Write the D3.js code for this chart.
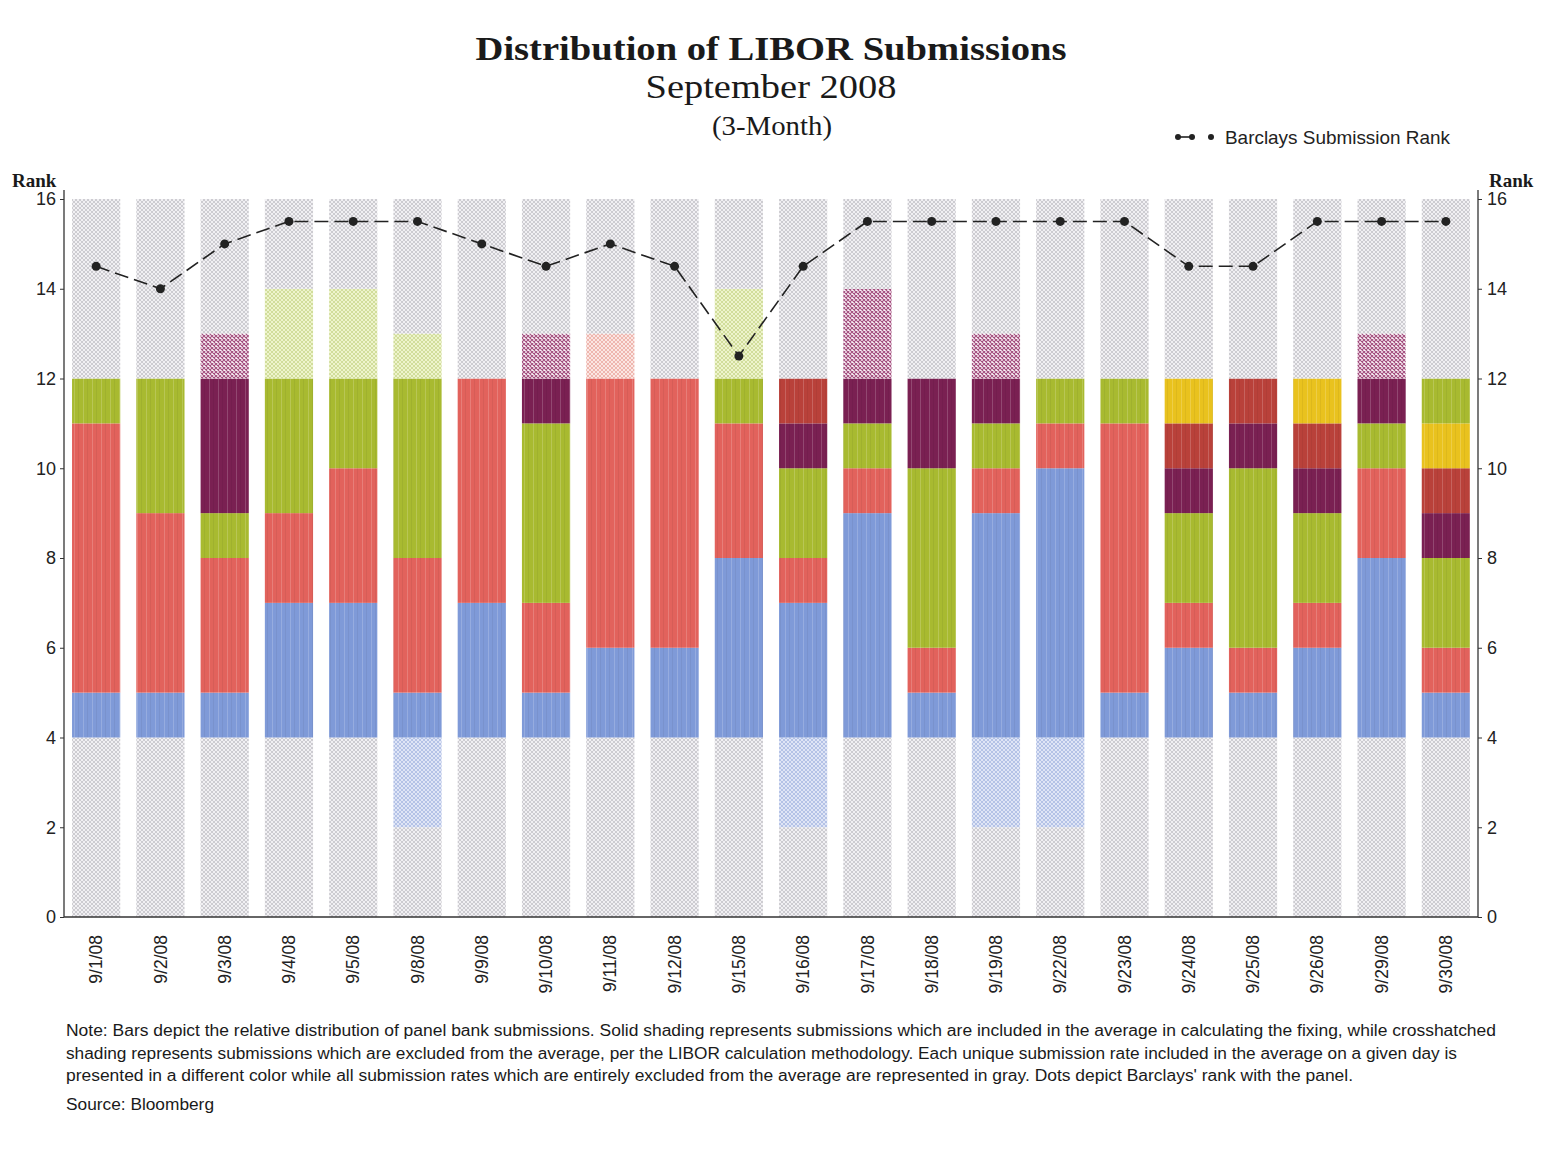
<!DOCTYPE html>
<html><head><meta charset="utf-8">
<script src="https://cdn.jsdelivr.net/npm/d3@7"></script>
<style>body{margin:0;background:#fff}svg{display:block}</style>
</head><body><svg id="c" width="1564" height="1151"></svg>
<script>
const dates = ["9/1/08","9/2/08","9/3/08","9/4/08","9/5/08","9/8/08","9/9/08","9/10/08","9/11/08","9/12/08","9/15/08","9/16/08","9/17/08","9/18/08","9/19/08","9/22/08","9/23/08","9/24/08","9/25/08","9/26/08","9/29/08","9/30/08"];
const barclaysRank = [14.5,14,15,15.5,15.5,15.5,15,14.5,15,14.5,12.5,14.5,15.5,15.5,15.5,15.5,15.5,14.5,14.5,15.5,15.5,15.5];
// segments bottom to top; "X" suffix = crosshatched (excluded)
const segKeys = [
 ["grayX","blue","red","green","grayX"],
 ["grayX","blue","red","green","grayX"],
 ["grayX","blue","red","green","purple","purpleX","grayX"],
 ["grayX","blue","red","green","greenX","grayX"],
 ["grayX","blue","red","green","greenX","grayX"],
 ["grayX","blueX","blue","red","green","greenX","grayX"],
 ["grayX","blue","red","grayX"],
 ["grayX","blue","red","green","purple","purpleX","grayX"],
 ["grayX","blue","red","redX","grayX"],
 ["grayX","blue","red","grayX"],
 ["grayX","blue","red","green","greenX","grayX"],
 ["grayX","blueX","blue","red","green","purple","darkred","grayX"],
 ["grayX","blue","red","green","purple","purpleX","grayX"],
 ["grayX","blue","red","green","purple","grayX"],
 ["grayX","blueX","blue","red","green","purple","purpleX","grayX"],
 ["grayX","blueX","blue","red","green","grayX"],
 ["grayX","blue","red","green","grayX"],
 ["grayX","blue","red","green","purple","darkred","yellow","grayX"],
 ["grayX","blue","red","green","purple","darkred","grayX"],
 ["grayX","blue","red","green","purple","darkred","yellow","grayX"],
 ["grayX","blue","red","green","purple","purpleX","grayX"],
 ["grayX","blue","red","green","purple","darkred","yellow","green","grayX"]
];
const segCounts = [
 [4,1,6,1,4],
 [4,1,4,3,4],
 [4,1,3,1,3,1,3],
 [4,3,2,3,2,2],
 [4,3,3,2,2,2],
 [2,2,1,3,4,1,3],
 [4,3,5,4],
 [4,1,2,4,1,1,3],
 [4,2,6,1,3],
 [4,2,6,4],
 [4,4,3,1,2,2],
 [2,2,3,1,2,1,1,4],
 [4,5,1,1,1,2,2],
 [4,1,1,4,2,4],
 [2,2,5,1,1,1,1,3],
 [2,2,6,1,1,4],
 [4,1,6,1,4],
 [4,2,1,2,1,1,1,4],
 [4,1,1,4,1,1,4],
 [4,2,1,2,1,1,1,4],
 [4,4,2,1,1,1,3],
 [4,1,1,2,1,1,1,1,4]
];
const yTicks = [0,2,4,6,8,10,12,14,16];

const solid = {blue:"#7f9ad8",red:"#e2625c",green:"#a8ba30",purple:"#7a2052",darkred:"#b9413a",yellow:"#e9c21e"};
const hatch = {
  gray:{bg:"#f1f0f3",ln:"#c4c3c8"},
  blue:{bg:"#dfe5f6",ln:"#a9b9e2"},
  green:{bg:"#eef4cc",ln:"#c9d78e"},
  purple:{bg:"#fbf4f8",ln:"#a34d7e"},
  red:{bg:"#fbe6e2",ln:"#eba9a2"}
};

const svg = d3.select("#c");
const m={l:64,r:1478,t:199,b:917};
const x = d3.scaleBand().domain(dates).range([m.l,m.r]).paddingInner(0.25).paddingOuter(0.125);
const y = d3.scaleLinear().domain([0,16]).range([m.b,m.t]);

const defs = svg.append("defs");
Object.entries(hatch).forEach(([k,v])=>{
  const p = defs.append("pattern").attr("id","h-"+k).attr("patternUnits","userSpaceOnUse").attr("width",4).attr("height",4);
  p.append("rect").attr("width",4).attr("height",4).attr("fill",v.bg);
  const sw = k==="purple"?1.1:0.8;
  p.append("path").attr("d","M0,0L4,4M4,0L0,4").attr("stroke",v.ln).attr("stroke-width",sw);
});
const sp = defs.append("pattern").attr("id","stripe").attr("patternUnits","userSpaceOnUse").attr("width",9).attr("height",10);
sp.append("rect").attr("x",2).attr("width",1).attr("height",10).attr("fill","#ffffff").attr("opacity",0.18);
sp.append("rect").attr("x",6).attr("width",1).attr("height",10).attr("fill","#000000").attr("opacity",0.05);

function fillFor(key){
  if(key.endsWith("X")) return "url(#h-"+key.slice(0,-1)+")";
  return solid[key];
}

dates.forEach((d,i)=>{
  const g = svg.append("g");
  let cum=0;
  const segs = segKeys[i].map((k,j)=>{const s={k,y0:cum,y1:cum+segCounts[i][j]};cum+=segCounts[i][j];return s;});
  g.selectAll("rect.s").data(segs).join("rect").attr("class","s")
    .attr("x",x(d)).attr("width",x.bandwidth())
    .attr("y",s=>y(s.y1)).attr("height",s=>y(s.y0)-y(s.y1))
    .attr("fill",s=>fillFor(s.k));
  g.selectAll("rect.t").data(segs.filter(s=>!s.k.endsWith("X"))).join("rect").attr("class","t")
    .attr("x",x(d)).attr("width",x.bandwidth())
    .attr("y",s=>y(s.y1)).attr("height",s=>y(s.y0)-y(s.y1))
    .attr("fill","url(#stripe)");
});

const sans="Liberation Sans, Arial, sans-serif";
const left = svg.append("g").attr("transform",`translate(${m.l},0)`)
  .call(d3.axisLeft(y).tickValues(yTicks).tickSize(4).tickSizeOuter(0));
const right = svg.append("g").attr("transform",`translate(${m.r},0)`)
  .call(d3.axisRight(y).tickValues(yTicks).tickSize(4).tickSizeOuter(0));
[left,right].forEach(a=>{
  a.select(".domain").attr("stroke","#333").attr("stroke-width",1.3).attr("d",`M0,${m.b}V190`);
  a.selectAll(".tick line").attr("stroke","#333");
  a.selectAll(".tick text").attr("font-family",sans).attr("font-size",18).attr("fill","#222");
});
left.selectAll(".tick text").attr("x",-8);
right.selectAll(".tick text").attr("x",9);
svg.append("line").attr("x1",m.l).attr("x2",m.r).attr("y1",m.b).attr("y2",m.b).attr("stroke","#333").attr("stroke-width",1.3);

const xa = svg.append("g").attr("transform",`translate(0,${m.b})`)
  .call(d3.axisBottom(x).tickSize(0));
xa.select(".domain").remove();
xa.selectAll(".tick text")
  .attr("font-family",sans).attr("font-size",17.5).attr("fill","#222")
  .attr("text-anchor","end").attr("transform","rotate(-90)").attr("x",-18).attr("y",0).attr("dy","0.35em");

const line = d3.line().x((v,i)=>x(dates[i])+x.bandwidth()/2).y(v=>y(v));
svg.append("path").datum(barclaysRank).attr("d",line).attr("fill","none")
  .attr("stroke","#222").attr("stroke-width",1.6).attr("stroke-dasharray","14,6");
svg.selectAll("circle.r").data(barclaysRank).join("circle").attr("class","r")
  .attr("cx",(v,i)=>x(dates[i])+x.bandwidth()/2).attr("cy",v=>y(v)).attr("r",4.5).attr("fill","#222");

const serif="Liberation Serif, Times New Roman, serif";
svg.append("text").attr("x",771).attr("y",60).attr("text-anchor","middle").attr("font-family",serif)
  .attr("font-weight","bold").attr("font-size",34).attr("textLength",591).attr("lengthAdjust","spacingAndGlyphs")
  .attr("fill","#1a1a1a").text("Distribution of LIBOR Submissions");
svg.append("text").attr("x",771).attr("y",98).attr("text-anchor","middle").attr("font-family",serif)
  .attr("font-size",34).attr("textLength",251).attr("lengthAdjust","spacingAndGlyphs").attr("fill","#1a1a1a").text("September 2008");
svg.append("text").attr("x",772).attr("y",135).attr("text-anchor","middle").attr("font-family",serif)
  .attr("font-size",27).attr("textLength",120).attr("lengthAdjust","spacingAndGlyphs").attr("fill","#1a1a1a").text("(3-Month)");
svg.append("text").attr("x",12).attr("y",187).attr("font-family",serif).attr("font-weight","bold")
  .attr("font-size",19).attr("fill","#1a1a1a").text("Rank");
svg.append("text").attr("x",1489).attr("y",187).attr("font-family",serif).attr("font-weight","bold")
  .attr("font-size",19).attr("fill","#1a1a1a").text("Rank");

const lg = svg.append("g").attr("transform","translate(1178,137)");
lg.append("line").attr("x1",0).attr("x2",14).attr("y1",0).attr("y2",0).attr("stroke","#222").attr("stroke-width",1.6);
[0,14,33].forEach(cx=>lg.append("circle").attr("cx",cx).attr("cy",0).attr("r",3).attr("fill","#222"));
lg.append("text").attr("x",47).attr("y",7).attr("font-family",sans)
  .attr("font-size",19).attr("textLength",225).attr("lengthAdjust","spacingAndGlyphs").attr("fill","#222").text("Barclays Submission Rank");

const notes = [
 ["Note:  Bars depict the relative distribution of panel bank submissions.  Solid shading represents submissions which are included in the average in calculating the fixing, while crosshatched",1430],
 ["shading represents submissions which are excluded from the average, per the LIBOR calculation methodology.  Each unique submission rate included in the average on a given day is",1391],
 ["presented in a different color while all submission rates which are entirely excluded from the average are represented in gray.  Dots depict Barclays' rank with the panel.",1287]
];
notes.forEach((n,i)=>svg.append("text").attr("x",66).attr("y",1036+i*22.5)
  .attr("font-family","Liberation Sans Narrow, Liberation Sans, Arial, sans-serif").attr("font-size",16)
  .attr("textLength",n[1]).attr("lengthAdjust","spacingAndGlyphs").attr("fill","#1a1a1a").text(n[0]));
svg.append("text").attr("x",66).attr("y",1110).attr("font-family","Liberation Sans Narrow, Liberation Sans, Arial, sans-serif")
  .attr("font-size",16).attr("textLength",148).attr("lengthAdjust","spacingAndGlyphs").attr("fill","#1a1a1a").text("Source: Bloomberg");
</script></body></html>
